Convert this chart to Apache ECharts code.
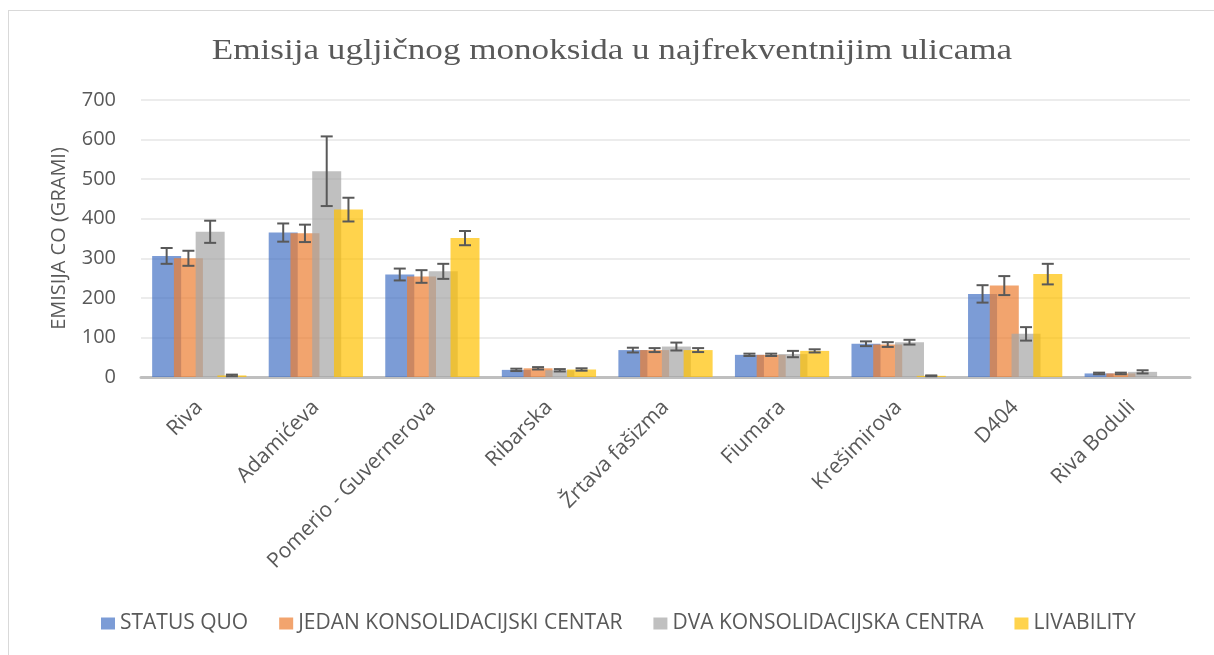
<!DOCTYPE html>
<html>
<head>
<meta charset="utf-8">
<script src="https://cdn.jsdelivr.net/npm/echarts@6/dist/echarts.min.js"></script>
<style>
  html, body { margin: 0; padding: 0; background: #fff; }
  #frame { position: absolute; left: 8px; top: 10px; width: 1230px; height: 680px; border: 1px solid #d9d9d9; box-sizing: border-box; }
  #chart { position: absolute; left: 0; top: 0; width: 1214px; height: 655px; }
</style>
</head>
<body>
<div id="frame"></div>
<div id="chart"></div>
<script>
// Streets
const streets = ['Riva', 'Adamićeva', 'Pomerio - Guvernerova', 'Ribarska', 'Žrtava fašizma', 'Fiumara', 'Krešimirova', 'D404', 'Riva Boduli'];

// Scenario names
const scenarios = ['STATUS QUO', 'JEDAN KONSOLIDACIJSKI CENTAR', 'DVA KONSOLIDACIJSKA CENTRA', 'LIVABILITY'];

// CO emissions (grams) per scenario
const statusQuo   = [306, 365, 259, 18, 68, 56, 84, 210, 9];
const jedanCentar = [300, 363, 254, 22, 68, 56, 82, 231, 9];
const dvaCentra   = [367, 520, 267, 17, 77, 58, 88, 109, 13];
const livability  = [4, 423, 351, 19, 68, 66, 3, 260, 0];

// Error bar half-ranges (grams)
const errStatusQuo   = [20, 23, 15, 3, 6, 3, 6, 22, 2];
const errJedanCentar = [19, 22, 16, 3, 5, 3, 6, 24, 2];
const errDvaCentra   = [28, 88, 19, 3, 10, 8, 6, 17, 4];
const errLivability  = [2, 30, 18, 3, 5, 4, 1, 26, 0];

// Y axis ticks
const yMin = 0, yMax = 700, yStep = 100;

const chartTitle = 'Emisija ugljičnog monoksida u najfrekventnijim ulicama';

const values = [statusQuo, jedanCentar, dvaCentra, livability];
const errors = [errStatusQuo, errJedanCentar, errDvaCentra, errLivability];
const colors = ['#4472C4', '#ED7D31', '#A5A5A5', '#FFC000'];

const SANS = 'Open Sans';
const TEXT = '#595959';

// Overlapping clustered bars: each bar shifted by three quarters of its width
const BAR_W = 29;
const BAR_GAP = -0.25;
const step = BAR_W * (1 + BAR_GAP);
const groupW = BAR_W * 4 + BAR_W * BAR_GAP * 3;
const offsets = [0, 1, 2, 3].map(i => -groupW / 2 + i * step + BAR_W / 2);

const barSeries = scenarios.map((name, i) => ({
  name,
  type: 'bar',
  data: values[i],
  barWidth: BAR_W,
  barGap: (BAR_GAP * 100) + '%',
  itemStyle: { color: colors[i], opacity: 0.7 },
  emphasis: { disabled: true },
  z: 2
}));

// Error whiskers drawn at each bar's centre
const errSeries = scenarios.map((name, i) => ({
  type: 'custom',
  name: name + '_err',
  data: values[i].map((v, k) => [k, v, errors[i][k]]),
  z: 5,
  silent: true,
  renderItem(params, api) {
    const k = api.value(0), v = api.value(1), e = api.value(2);
    if (!e) return null;
    const hi = api.coord([k, v + e]);
    const lo = api.coord([k, Math.max(v - e, 0)]);
    const x = hi[0] + offsets[i];
    const cap = 6;
    const style = { stroke: '#595959', lineWidth: 2 };
    return {
      type: 'group',
      children: [
        { type: 'line', shape: { x1: x, y1: hi[1], x2: x, y2: lo[1] }, style },
        { type: 'line', shape: { x1: x - cap, y1: hi[1], x2: x + cap, y2: hi[1] }, style },
        { type: 'line', shape: { x1: x - cap, y1: lo[1], x2: x + cap, y2: lo[1] }, style }
      ]
    };
  }
}));

const chart = echarts.init(document.getElementById('chart'), null, { renderer: 'canvas' });
chart.setOption({
  animation: false,
  backgroundColor: 'transparent',
  graphic: [{
    type: 'text',
    x: 612,
    y: 51,
    scaleX: 1.17,
    style: {
      text: chartTitle,
      fontFamily: 'Liberation Serif',
      fontSize: 30,
      fill: TEXT,
      align: 'center',
      verticalAlign: 'middle'
    }
  }],
  legend: {
    data: scenarios,
    top: 608,
    left: 96,
    itemWidth: 14,
    itemHeight: 12,
    itemGap: 31,
    icon: 'rect',
    textStyle: { fontFamily: SANS, fontSize: 21, color: TEXT },
    selectedMode: false
  },
  grid: { left: 141, right: 24, top: 100, bottom: 278, containLabel: false },
  xAxis: {
    type: 'category',
    data: streets,
    axisLine: { lineStyle: { color: '#bfbfbf', width: 3 } },
    axisTick: { show: false },
    axisLabel: { rotate: 45, fontFamily: SANS, fontSize: 21, color: TEXT, margin: 27, interval: 0 }
  },
  yAxis: {
    type: 'value',
    min: yMin, max: yMax, interval: yStep,
    name: 'EMISIJA CO (GRAMI)',
    nameLocation: 'middle',
    nameGap: 72,
    nameTextStyle: { fontFamily: SANS, fontSize: 20, color: TEXT },
    axisLine: { show: false },
    axisTick: { show: false },
    splitLine: { lineStyle: { color: '#ececec', width: 2 } },
    axisLabel: { fontFamily: SANS, fontSize: 20, color: TEXT, margin: 25 }
  },
  series: [...barSeries, ...errSeries]
});
</script>
</body>
</html>
